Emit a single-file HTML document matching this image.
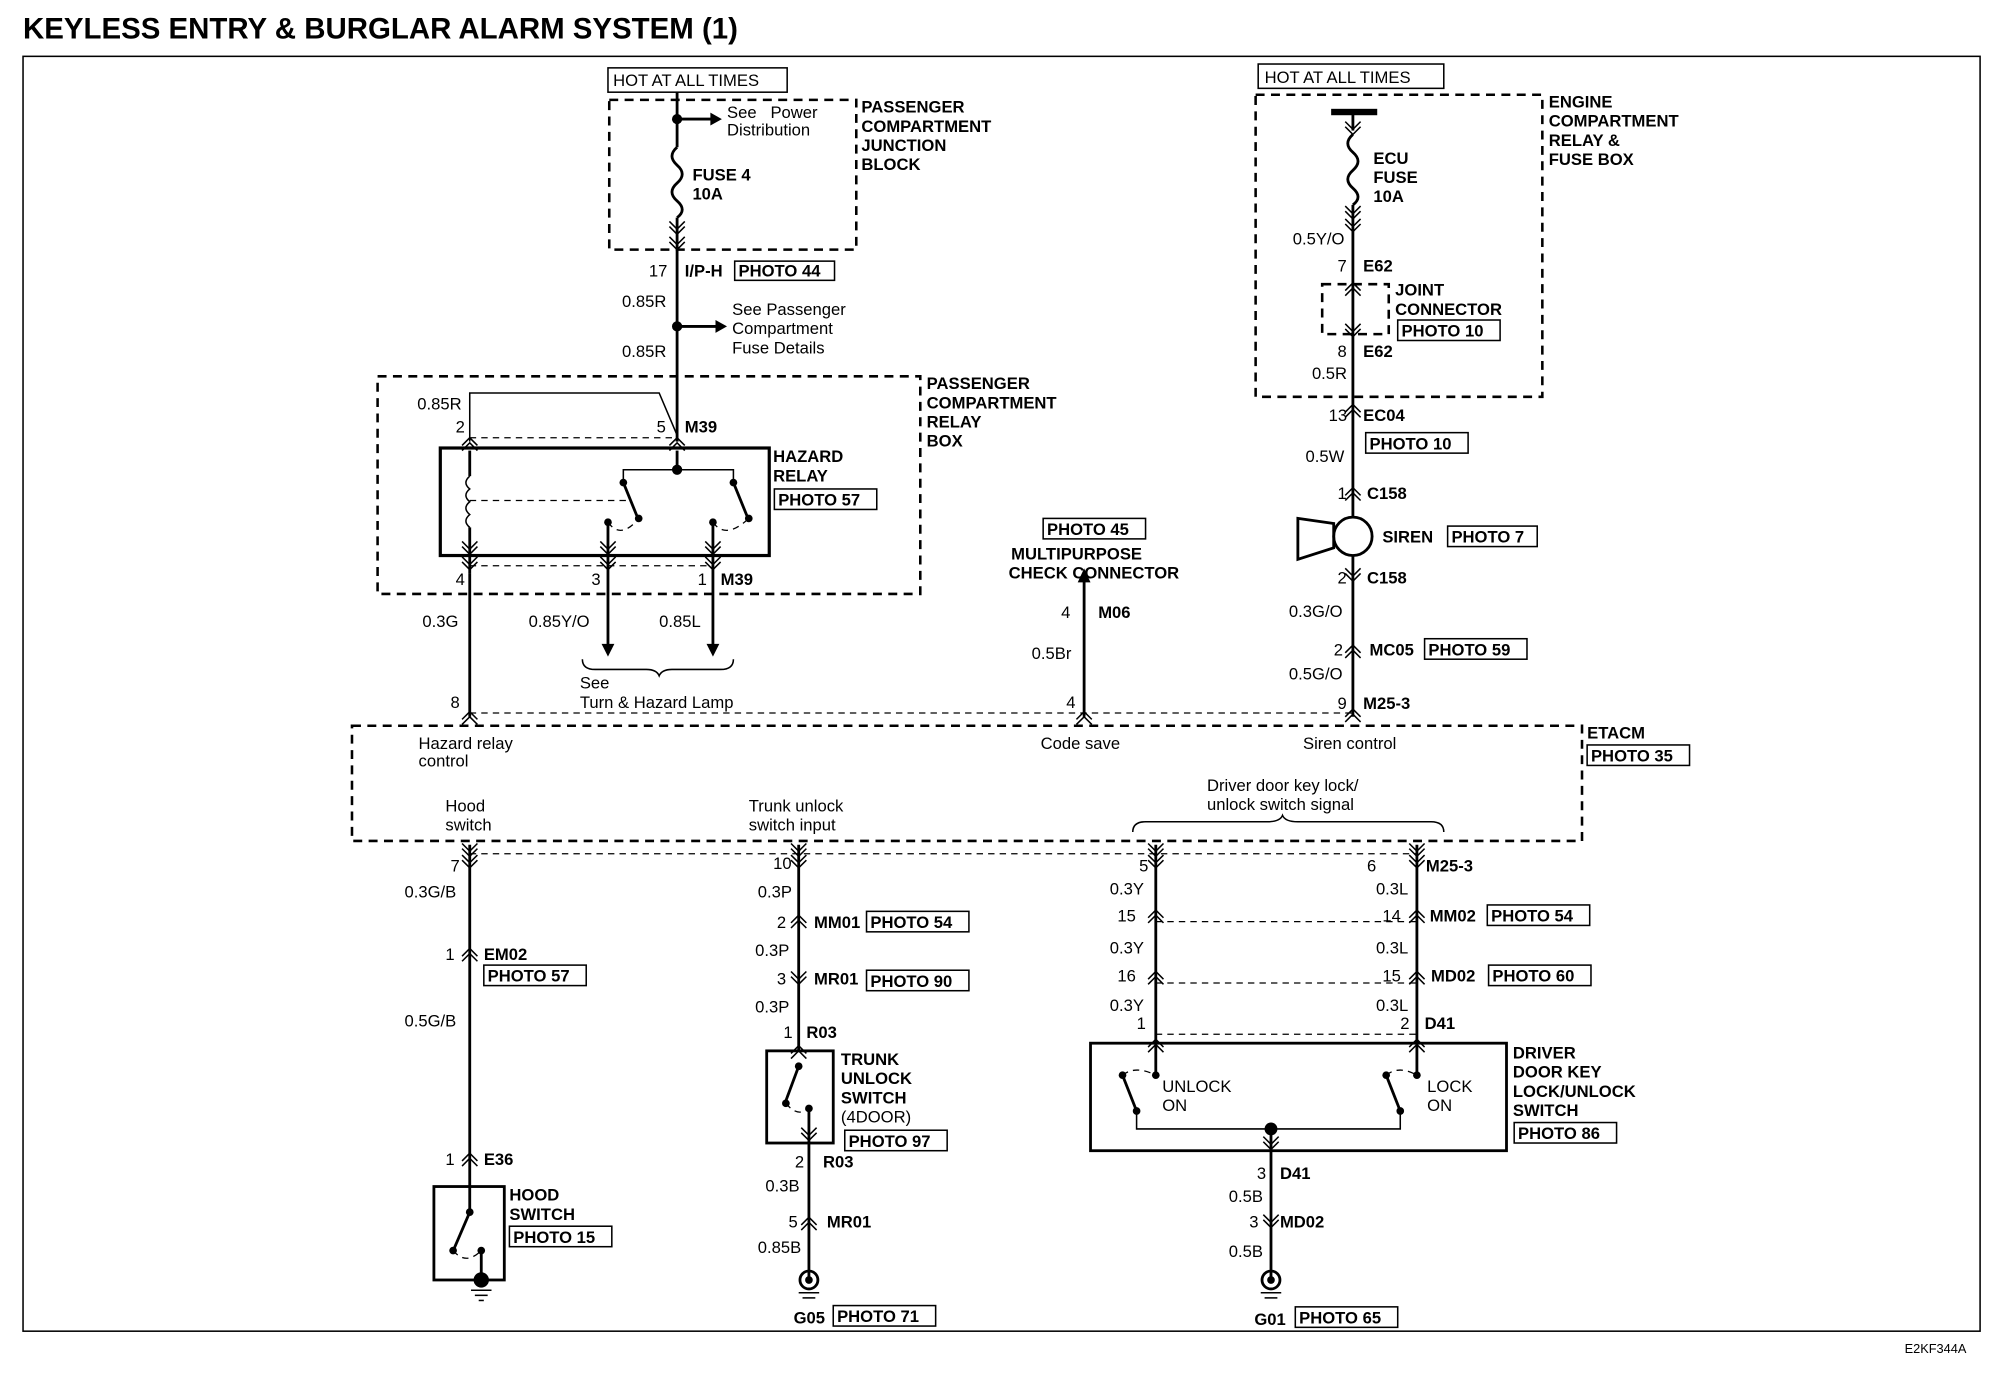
<!DOCTYPE html>
<html><head><meta charset="utf-8"><style>
html,body{margin:0;padding:0;background:#fff;}
svg{display:block;font-family:"Liberation Sans",Arial,sans-serif;}
text{font-size:13px;fill:#000;}
.b{font-weight:bold;}
.t{font-size:23px;font-weight:bold;}
.w{stroke:#000;stroke-width:2.2;fill:none;}
.th{stroke:#000;stroke-width:1.2;fill:none;}
.d{stroke:#000;stroke-width:2;fill:none;stroke-dasharray:7,5;}
.dt{stroke:#000;stroke-width:1;fill:none;stroke-dasharray:5,4;}
.bx{stroke:#000;stroke-width:1.2;fill:#fff;}
</style></head><body>
<svg width="1998" height="1376" viewBox="0 0 1561 1075" xmlns="http://www.w3.org/2000/svg">
<defs>
<g id="cu"><polyline points="-6,5 0,-1 6,5" class="th"/><polyline points="-6,9 0,3 6,9" class="th"/></g>
<g id="cd"><polyline points="-6,-5 0,1 6,-5" class="th"/><polyline points="-6,-9 0,-3 6,-9" class="th"/></g>
</defs>
<text x="18" y="30" class="t">KEYLESS ENTRY &amp; BURGLAR ALARM SYSTEM (1)</text>
<rect x="18" y="44" width="1529" height="996" class="th"/>
<text x="1488" y="1057" style="font-size:10px">E2KF344A</text>

<!-- top left -->
<rect x="475" y="53" width="140" height="19" class="bx"/><text x="479" y="67">HOT AT ALL TIMES</text>
<rect x="476" y="78" width="193" height="117" class="d"/>
<text x="673" y="88" class="b">PASSENGER</text><text x="673" y="103" class="b">COMPARTMENT</text><text x="673" y="118" class="b">JUNCTION</text><text x="673" y="133" class="b">BLOCK</text>
<line x1="529" y1="72" x2="529" y2="115" class="w"/>
<circle cx="529" cy="93" r="4"/><line x1="529" y1="93" x2="556" y2="93" class="w"/><polygon points="555,88 564,93 555,98"/>
<text x="568" y="92">See&#160;&#160;&#160;Power</text><text x="568" y="106">Distribution</text>
<path d="M529,115 q-8,7 0,14 q8,7 0,14 q-8,7 0,14 q8,7 0,13" class="w"/>
<text x="541" y="141" class="b">FUSE 4</text><text x="541" y="156" class="b">10A</text>
<line x1="529" y1="170" x2="529" y2="345" class="w"/>
<use href="#cd" x="529" y="182"/><use href="#cd" x="529" y="194"/>
<text x="507" y="216">17</text><text x="535" y="216" class="b">I/P-H</text>
<rect x="574" y="204" width="78" height="15" class="bx"/><text x="577" y="216" class="b">PHOTO 44</text>
<text x="486" y="240">0.85R</text>
<circle cx="529" cy="255" r="4"/><line x1="529" y1="255" x2="560" y2="255" class="w"/><polygon points="559,250 568,255 559,260"/>
<text x="572" y="246">See Passenger</text><text x="572" y="261">Compartment</text><text x="572" y="276">Fuse Details</text>
<text x="486" y="279">0.85R</text>

<!-- relay box -->
<rect x="295" y="294" width="424" height="170" class="d"/>
<text x="724" y="304" class="b">PASSENGER</text><text x="724" y="319" class="b">COMPARTMENT</text><text x="724" y="334" class="b">RELAY</text><text x="724" y="349" class="b">BOX</text>
<polyline points="367,345 367,307 515,307 529,340" class="th"/>
<text x="326" y="320">0.85R</text><text x="356" y="338">2</text><text x="513" y="338">5</text><text x="535" y="338" class="b">M39</text>
<line x1="367" y1="342" x2="529" y2="342" class="dt"/>
<rect x="344" y="350" width="257" height="84" class="w" style="stroke-width:2.5"/>
<text x="604" y="361" class="b">HAZARD</text><text x="604" y="376" class="b">RELAY</text>
<rect x="605" y="382" width="80" height="16" class="bx"/><text x="608" y="395" class="b">PHOTO 57</text>
<use href="#cu" x="367" y="343"/><use href="#cu" x="529" y="343"/>
<line x1="367" y1="352" x2="367" y2="372" class="w"/>
<path d="M367,372 q-6,5 0,10 q-6,5 0,10 q-6,5 0,10 q-6,5 0,10" class="th"/>
<line x1="367" y1="412" x2="367" y2="448" class="w"/>
<line x1="529" y1="352" x2="529" y2="367" class="w"/><circle cx="529" cy="367" r="4"/>
<polyline points="487,376 487,367 573,367 573,376" class="th"/>
<circle cx="487" cy="377" r="3"/><line x1="487" y1="377" x2="498" y2="404" class="w"/><circle cx="499" cy="405" r="3"/>
<circle cx="573" cy="377" r="3"/><line x1="573" y1="377" x2="584" y2="404" class="w"/><circle cx="585" cy="405" r="3"/>
<line x1="367" y1="391" x2="492" y2="391" class="dt"/>
<circle cx="475" cy="408" r="3"/><path d="M475,408 q10,14 24,-3" class="dt"/>
<circle cx="557" cy="408" r="3"/><path d="M557,408 q10,14 28,-3" class="dt"/>
<line x1="475" y1="408" x2="475" y2="510" class="w"/><line x1="557" y1="408" x2="557" y2="510" class="w"/>
<use href="#cd" x="367" y="432"/><use href="#cd" x="475" y="432"/><use href="#cd" x="557" y="432"/>
<use href="#cd" x="367" y="444"/><use href="#cd" x="475" y="444"/><use href="#cd" x="557" y="444"/>
<line x1="367" y1="442" x2="557" y2="442" class="dt"/>
<text x="356" y="457">4</text><text x="462" y="457">3</text><text x="545" y="457">1</text><text x="563" y="457" class="b">M39</text>
<line x1="367" y1="448" x2="367" y2="560" class="w"/>
<polygon points="470,503 475,513 480,503"/><polygon points="552,503 557,513 562,503"/>
<text x="330" y="490">0.3G</text><text x="413" y="490">0.85Y/O</text><text x="515" y="490">0.85L</text>
<path d="M455,515 q0,8 10,8 l40,0 q8,0 10,5 q2,-5 10,-5 l38,0 q10,0 10,-8" class="th"/>
<text x="453" y="538">See</text><text x="453" y="553">Turn &amp; Hazard Lamp</text>

<!-- multipurpose -->
<rect x="815" y="405" width="80" height="16" class="bx"/><text x="818" y="418" class="b">PHOTO 45</text>
<text x="790" y="437" class="b">MULTIPURPOSE</text><text x="788" y="452" class="b">CHECK CONNECTOR</text>
<line x1="847" y1="452" x2="847" y2="560" class="w"/><polygon points="842,455 847,444 852,455"/>
<text x="829" y="483">4</text><text x="858" y="483" class="b">M06</text>
<text x="806" y="515">0.5Br</text><text x="833" y="553">4</text>
<use href="#cu" x="847" y="557"/>

<!-- right top -->
<rect x="983" y="50" width="145" height="19" class="bx"/><text x="988" y="65">HOT AT ALL TIMES</text>
<rect x="981" y="74" width="224" height="236" class="d"/>
<text x="1210" y="84" class="b">ENGINE</text><text x="1210" y="99" class="b">COMPARTMENT</text><text x="1210" y="114" class="b">RELAY &amp;</text><text x="1210" y="129" class="b">FUSE BOX</text>
<rect x="1040" y="85" width="36" height="5" fill="#000"/>
<line x1="1057" y1="88" x2="1057" y2="102" class="w"/>
<polyline points="1051,95 1057,101 1063,95" class="th"/><polyline points="1051,99 1057,105 1063,99" class="th"/>
<path d="M1057,105 q-8,7 0,14 q8,7 0,14 q-8,7 0,14 q8,7 0,13" class="w"/>
<text x="1073" y="128" class="b">ECU</text><text x="1073" y="143" class="b">FUSE</text><text x="1073" y="158" class="b">10A</text>
<line x1="1057" y1="160" x2="1057" y2="404" class="w"/>
<use href="#cd" x="1057" y="170"/><use href="#cd" x="1057" y="180"/>
<text x="1010" y="191">0.5Y/O</text>
<text x="1045" y="212">7</text><text x="1065" y="212" class="b">E62</text>
<rect x="1033" y="222" width="52" height="39" class="d"/>
<use href="#cu" x="1057" y="222"/><use href="#cd" x="1057" y="262"/>
<text x="1090" y="231" class="b">JOINT</text><text x="1090" y="246" class="b">CONNECTOR</text>
<rect x="1092" y="250" width="80" height="16" class="bx"/><text x="1095" y="263" class="b">PHOTO 10</text>
<text x="1045" y="279">8</text><text x="1065" y="279" class="b">E62</text><text x="1025" y="296">0.5R</text>
<use href="#cu" x="1057" y="317"/>
<text x="1038" y="329">13</text><text x="1065" y="329" class="b">EC04</text>
<text x="1020" y="361">0.5W</text><rect x="1067" y="338" width="80" height="16" class="bx"/><text x="1070" y="351" class="b">PHOTO 10</text>
<use href="#cu" x="1057" y="382"/>
<text x="1045" y="390">1</text><text x="1068" y="390" class="b">C158</text>
<circle cx="1057" cy="419" r="15" class="w" fill="#fff"/>
<polygon points="1042,409 1014,405 1014,437 1042,428" class="w" fill="#fff"/>
<text x="1080" y="424" class="b">SIREN</text><rect x="1131" y="411" width="70" height="16" class="bx"/><text x="1134" y="424" class="b">PHOTO 7</text>
<line x1="1057" y1="434" x2="1057" y2="560" class="w"/>
<use href="#cd" x="1057" y="453"/>
<text x="1045" y="456">2</text><text x="1068" y="456" class="b">C158</text>
<text x="1007" y="482">0.3G/O</text>
<use href="#cu" x="1057" y="505"/>
<text x="1042" y="512">2</text><text x="1070" y="512" class="b">MC05</text>
<rect x="1113" y="499" width="80" height="16" class="bx"/><text x="1116" y="512" class="b">PHOTO 59</text>
<text x="1007" y="531">0.5G/O</text>
<use href="#cu" x="1057" y="555"/>
<text x="1045" y="554">9</text><text x="1065" y="554" class="b">M25-3</text>

<!-- ETACM -->
<line x1="367" y1="557" x2="1057" y2="557" class="dt"/>
<use href="#cu" x="367" y="557"/>
<text x="352" y="553">8</text>
<rect x="275" y="567" width="961" height="90" class="d"/>
<text x="1240" y="577" class="b">ETACM</text><rect x="1240" y="582" width="80" height="16" class="bx"/><text x="1243" y="595" class="b">PHOTO 35</text>
<text x="327" y="585">Hazard relay</text><text x="327" y="599">control</text>
<text x="813" y="585">Code save</text><text x="1018" y="585">Siren control</text>
<text x="348" y="634">Hood</text><text x="348" y="649">switch</text>
<text x="585" y="634">Trunk unlock</text><text x="585" y="649">switch input</text>
<text x="943" y="618">Driver door key lock/</text><text x="943" y="633">unlock switch signal</text>
<path d="M885,650 q0,-8 10,-8 l95,0 q10,0 12,-5 q2,5 12,5 l104,0 q10,0 10,8" class="th"/>
<line x1="367" y1="667" x2="1107" y2="667" class="dt"/>

<!-- hood -->
<line x1="367" y1="660" x2="367" y2="945" class="w"/>
<use href="#cd" x="367" y="668"/><use href="#cd" x="367" y="677"/>
<text x="352" y="681">7</text><text x="316" y="701">0.3G/B</text>
<use href="#cu" x="367" y="742"/>
<text x="348" y="750">1</text><text x="378" y="750" class="b">EM02</text>
<rect x="378" y="754" width="80" height="16" class="bx"/><text x="381" y="767" class="b">PHOTO 57</text>
<text x="316" y="802">0.5G/B</text>
<use href="#cu" x="367" y="902"/>
<text x="348" y="910">1</text><text x="378" y="910" class="b">E36</text>
<rect x="339" y="927" width="55" height="73" class="w"/>
<circle cx="367" cy="947" r="3"/><line x1="367" y1="947" x2="355" y2="975" class="w"/><circle cx="354" cy="977" r="3"/>
<circle cx="376" cy="977" r="3"/><path d="M354,977 q10,12 22,0" class="dt"/>
<line x1="376" y1="977" x2="376" y2="1000" class="w"/><circle cx="376" cy="1000" r="6"/>
<line x1="368" y1="1008" x2="384" y2="1008" class="th"/><line x1="371" y1="1012" x2="381" y2="1012" class="th"/><line x1="374" y1="1016" x2="378" y2="1016" class="th"/>
<text x="398" y="938" class="b">HOOD</text><text x="398" y="953" class="b">SWITCH</text>
<rect x="398" y="958" width="80" height="16" class="bx"/><text x="401" y="971" class="b">PHOTO 15</text>

<!-- trunk -->
<line x1="624" y1="660" x2="624" y2="820" class="w"/>
<use href="#cd" x="624" y="668"/><use href="#cd" x="624" y="677"/>
<text x="604" y="679">10</text><text x="592" y="701">0.3P</text>
<use href="#cu" x="624" y="716"/>
<text x="607" y="725">2</text><text x="636" y="725" class="b">MM01</text>
<rect x="677" y="712" width="80" height="16" class="bx"/><text x="680" y="725" class="b">PHOTO 54</text>
<text x="590" y="747">0.3P</text>
<use href="#cd" x="624" y="768"/>
<text x="607" y="769">3</text><text x="636" y="769" class="b">MR01</text>
<rect x="677" y="758" width="80" height="16" class="bx"/><text x="680" y="771" class="b">PHOTO 90</text>
<text x="590" y="791">0.3P</text>
<text x="612" y="811">1</text><text x="630" y="811" class="b">R03</text>
<rect x="599" y="821" width="52" height="72" class="w"/>
<use href="#cu" x="624" y="818"/>
<circle cx="624" cy="833" r="3"/><line x1="624" y1="833" x2="614" y2="860" class="w"/><circle cx="614" cy="862" r="3"/>
<path d="M614,862 q10,12 18,3" class="dt"/><circle cx="632" cy="866" r="3"/>
<line x1="632" y1="866" x2="632" y2="1000" class="w"/>
<use href="#cd" x="632" y="890"/>
<text x="657" y="832" class="b">TRUNK</text><text x="657" y="847" class="b">UNLOCK</text><text x="657" y="862" class="b">SWITCH</text><text x="657" y="877">(4DOOR)</text>
<rect x="660" y="883" width="80" height="16" class="bx"/><text x="663" y="896" class="b">PHOTO 97</text>
<text x="621" y="912">2</text><text x="643" y="912" class="b">R03</text>
<text x="598" y="931">0.3B</text>
<use href="#cu" x="632" y="952"/>
<text x="616" y="959">5</text><text x="646" y="959" class="b">MR01</text>
<text x="592" y="979">0.85B</text>
<circle cx="632" cy="1000" r="7" class="w"/><circle cx="632" cy="1000" r="3"/>
<line x1="624" y1="1010" x2="640" y2="1010" class="th"/><line x1="627" y1="1014" x2="637" y2="1014" class="th"/>
<text x="620" y="1034" class="b">G05</text>
<rect x="651" y="1020" width="80" height="16" class="bx"/><text x="654" y="1033" class="b">PHOTO 71</text>

<!-- driver door -->
<line x1="903" y1="660" x2="903" y2="840" class="w"/><line x1="1107" y1="660" x2="1107" y2="840" class="w"/>
<use href="#cd" x="903" y="668"/><use href="#cd" x="903" y="677"/><use href="#cd" x="1107" y="668"/><use href="#cd" x="1107" y="677"/>
<text x="890" y="681">5</text><text x="1068" y="681">6</text><text x="1114" y="681" class="b">M25-3</text>
<text x="867" y="699">0.3Y</text><text x="1075" y="699">0.3L</text>
<use href="#cu" x="903" y="712"/><use href="#cu" x="1107" y="712"/>
<line x1="903" y1="720" x2="1107" y2="720" class="dt"/>
<text x="873" y="720">15</text><text x="1080" y="720">14</text><text x="1117" y="720" class="b">MM02</text>
<rect x="1162" y="707" width="80" height="16" class="bx"/><text x="1165" y="720" class="b">PHOTO 54</text>
<text x="867" y="745">0.3Y</text><text x="1075" y="745">0.3L</text>
<use href="#cu" x="903" y="760"/><use href="#cu" x="1107" y="760"/>
<line x1="903" y1="768" x2="1107" y2="768" class="dt"/>
<text x="873" y="767">16</text><text x="1080" y="767">15</text><text x="1118" y="767" class="b">MD02</text>
<rect x="1163" y="754" width="80" height="16" class="bx"/><text x="1166" y="767" class="b">PHOTO 60</text>
<text x="867" y="790">0.3Y</text><text x="1075" y="790">0.3L</text>
<line x1="903" y1="808" x2="1107" y2="808" class="dt"/>
<text x="888" y="804">1</text><text x="1094" y="804">2</text><text x="1113" y="804" class="b">D41</text>
<rect x="852" y="815" width="325" height="84" class="w"/>
<use href="#cu" x="903" y="813"/><use href="#cu" x="1107" y="813"/>
<circle cx="903" cy="840" r="3"/><circle cx="1107" cy="840" r="3"/>
<circle cx="877" cy="840" r="3"/><line x1="877" y1="840" x2="888" y2="868" class="w"/><circle cx="888" cy="868" r="3"/>
<path d="M877,840 q10,-8 26,0" class="dt"/>
<circle cx="1083" cy="840" r="3"/><line x1="1083" y1="840" x2="1094" y2="868" class="w"/><circle cx="1094" cy="868" r="3"/>
<path d="M1083,840 q10,-8 24,0" class="dt"/>
<polyline points="888,868 888,882 1094,882 1094,868" class="th"/>
<text x="908" y="853">UNLOCK</text><text x="908" y="868">ON</text>
<text x="1115" y="853">LOCK</text><text x="1115" y="868">ON</text>
<circle cx="993" cy="882" r="5"/>
<line x1="993" y1="882" x2="993" y2="1000" class="w"/>
<use href="#cd" x="993" y="897"/>
<text x="1182" y="827" class="b">DRIVER</text><text x="1182" y="842" class="b">DOOR KEY</text><text x="1182" y="857" class="b">LOCK/UNLOCK</text><text x="1182" y="872" class="b">SWITCH</text>
<rect x="1183" y="877" width="80" height="16" class="bx"/><text x="1186" y="890" class="b">PHOTO 86</text>
<text x="982" y="921">3</text><text x="1000" y="921" class="b">D41</text>
<text x="960" y="939">0.5B</text>
<use href="#cd" x="993" y="958"/>
<text x="976" y="959">3</text><text x="1000" y="959" class="b">MD02</text>
<text x="960" y="982">0.5B</text>
<circle cx="993" cy="1000" r="7" class="w"/><circle cx="993" cy="1000" r="3"/>
<line x1="985" y1="1010" x2="1001" y2="1010" class="th"/><line x1="988" y1="1014" x2="998" y2="1014" class="th"/>
<text x="980" y="1035" class="b">G01</text>
<rect x="1012" y="1021" width="80" height="16" class="bx"/><text x="1015" y="1034" class="b">PHOTO 65</text>
</svg>
</body></html>
